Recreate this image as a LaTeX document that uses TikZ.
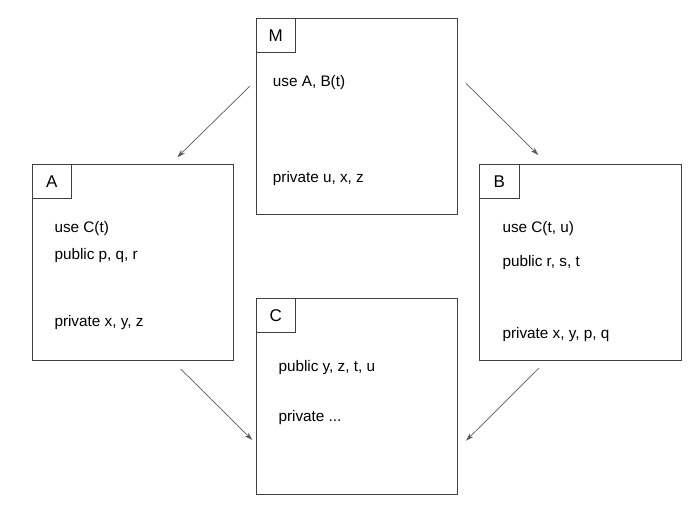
\documentclass[tikz,border=0pt]{standalone}
\usepackage{fontspec}
\setmainfont{Liberation Sans}
\usetikzlibrary{arrows.meta}
\tikzset{
  modbox/.style={draw=black!75, line width=0.8pt, fill=white, rectangle, inner sep=0pt,
    minimum width=201.6pt, minimum height=195.7pt, anchor=north west},
  labbox/.style={draw=black!75, line width=0.8pt, rectangle, inner sep=0pt,
    minimum width=39.3pt, minimum height=34pt, anchor=north west, font=\fontsize{17}{20}\selectfont},
  txt/.style={anchor=base west, inner sep=0pt, font=\fontsize{15.3}{18}\selectfont},
  conn/.style={draw=black!65, line width=0.7pt, -{Stealth[length=8pt,width=5pt,inset=2.5pt]}}
}
\begin{document}
\begin{tikzpicture}[x=1pt,y=-1pt]
\useasboundingbox (0,0) rectangle (697,507);
% boxes
\node[modbox] (M) at (255.7,18.3) {};
\node[modbox] (A) at (31.7,164.3) {};
\node[modbox] (B) at (479.3,164.3) {};
\node[modbox] (C) at (255.7,298.3) {};
% labels
\node[labbox] (Ml) at (M.north west) {M};
\node[labbox] (Al) at (A.north west) {A};
\node[labbox] (Bl) at (B.north west) {B};
\node[labbox] (Cl) at (C.north west) {C};
% texts
\node[txt] (M1) at (272.7,86) {use A, B(t)};
\node[txt] (M2) at (272.7,182.7) {private u, x, z};
\node[txt] (A1) at (54.3,232.7) {use C(t)};
\node[txt] (A2) at (54.3,259.5) {public p, q, r};
\node[txt] (A3) at (54.3,326.7) {private x, y, z};
\node[txt] (B1) at (502.3,232.7) {use C(t, u)};
\node[txt] (B2) at (502.3,266) {public r, s, t};
\node[txt] (B3) at (502.3,338) {private x, y, p, q};
\node[txt] (C1) at (278.3,371.7) {public y, z, t, u};
\node[txt] (C2) at (278.3,421.7) {private ...};
% connector ends
\coordinate (mas) at (250,86);
\coordinate (mae) at (177.3,157.3);
\coordinate (mbs) at (466,83.3);
\coordinate (mbe) at (538.3,155);
\coordinate (acs) at (180.7,369);
\coordinate (ace) at (252.3,440);
\coordinate (bcs) at (538.7,368.3);
\coordinate (bce) at (466,440.7);
\draw[conn] (mas) -- (mae);
\draw[conn] (mbs) -- (mbe);
\draw[conn] (acs) -- (ace);
\draw[conn] (bcs) -- (bce);
\end{tikzpicture}
\end{document}
